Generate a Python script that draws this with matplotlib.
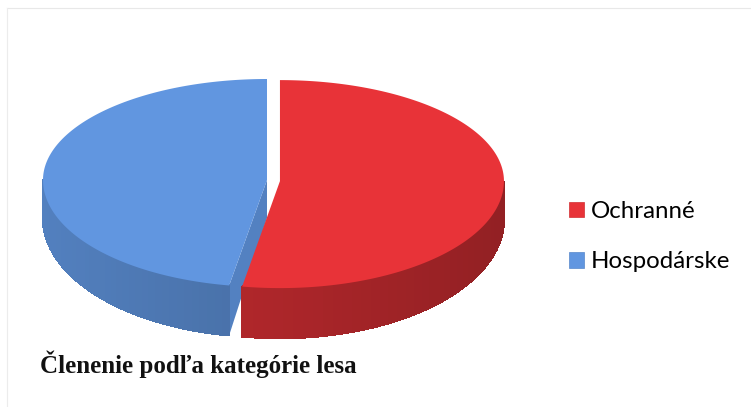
import numpy as np
import matplotlib.pyplot as plt
from matplotlib.patches import Polygon, Patch

labels = ['Ochranné', 'Hospodárske']
values = [52.7, 47.3]
explode = [13, 0]          # px offset of each slice
top_colors = [(0.91, 0.20, 0.22), (0.38, 0.59, 0.88)]
title = 'Členenie podľa kategórie lesa'

W, H = 751, 407
cx, cy = 267, 180          # pie centre (px, y down)
A = 224                    # horizontal radius
B_BACK, B_FRONT = 101, 107 # vertical radius back / front half
H_SIDE, H_FRONT = 38, 50   # wall height at sides / front

fig = plt.figure(figsize=(W / 100, H / 100), dpi=100)
ax = fig.add_axes([0, 0, 1, 1])
ax.set_xlim(0, W)
ax.set_ylim(H, 0)
ax.axis('off')


def rim(t, ox, oy):
    b = B_BACK if np.cos(t) > 0 else B_FRONT
    return ox + A * np.sin(t), oy - b * np.cos(t)


def depth(t):
    return H_SIDE + (H_FRONT - H_SIDE) * max(0.0, -np.cos(t))


def shade(c, f):
    return tuple(min(1, v * f) for v in c)


# slice angles, clockwise from 12 o'clock
fracs = np.array(values) / np.sum(values)
ends = np.cumsum(fracs) * 2 * np.pi
starts = ends - fracs * 2 * np.pi

slices = []
for s, e, d, c in zip(starts, ends, explode, top_colors):
    mid = (s + e) / 2
    ox = cx + d * np.sin(mid)
    oy = cy - d * np.cos(mid)
    slices.append((s, e, ox, oy, c))

# radial faces (visible ones)
for s, e, ox, oy, c in slices:
    for ang, vis in ((s, np.sin(s) < -1e-6), (e, np.sin(e) > 1e-6)):
        if not vis:
            continue
        px, py = rim(ang, ox, oy)
        poly = [(ox, oy), (px, py), (px, py + depth(ang)), (ox, oy + H_SIDE)]
        ax.add_patch(Polygon(poly, closed=True, facecolor=shade(c, 0.86),
                             edgecolor='none', zorder=1))

# outer walls, front half only
for s, e, ox, oy, c in slices:
    lo, hi = max(s, np.pi / 2), min(e, 3 * np.pi / 2)
    if hi <= lo:
        continue
    ts = np.linspace(lo, hi, 40)
    for t0, t1 in zip(ts[:-1], ts[1:]):
        x0, y0 = rim(t0, ox, oy)
        x1, y1 = rim(t1, ox, oy)
        tm = (t0 + t1) / 2
        f = 0.74 - 0.11 * np.sin(tm)
        poly = [(x0, y0), (x1, y1), (x1, y1 + depth(t1)), (x0, y0 + depth(t0))]
        ax.add_patch(Polygon(poly, closed=True, facecolor=shade(c, f),
                             edgecolor=shade(c, f), lw=1.0, antialiased=False,
                             zorder=2))

# top faces
for s, e, ox, oy, c in slices:
    ts = np.linspace(s, e, 200)
    pts = [(ox, oy)] + [rim(t, ox, oy) for t in ts]
    ax.add_patch(Polygon(pts, closed=True, facecolor=c, edgecolor='none', zorder=3))

# faint chart frame from the scan
ax.plot([7, W], [8, 8], color='#e8e8e8', lw=0.8, zorder=0)
ax.plot([7, 7], [8, H], color='#ececec', lw=0.8, zorder=0)

handles = [Patch(facecolor=c, edgecolor=shade(c, 0.9), lw=0.5) for c in top_colors]
ax.legend(handles, labels, loc='upper left', bbox_to_anchor=(569 / W, 1 - 201 / H),
          frameon=False, prop={'family': 'Lato', 'size': 17.3},
          handlelength=0.62, handleheight=0.62, handletextpad=0.29,
          labelspacing=1.22, borderpad=0, borderaxespad=0)

ax.text(40, 373, title, fontsize=18, fontweight='bold',
        family='Liberation Serif', color='#111111', ha='left', va='baseline')

fig.savefig('out.png', dpi=100)
